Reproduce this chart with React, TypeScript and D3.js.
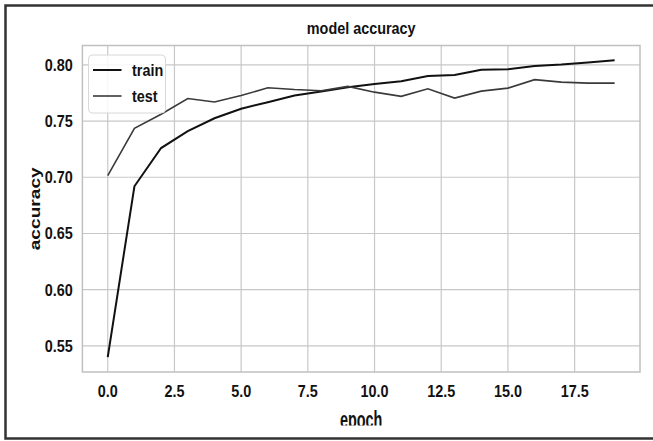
import React from "react";
import * as d3 from "d3";

const epochs = [0,1,2,3,4,5,6,7,8,9,10,11,12,13,14,15,16,17,18,19];
const trainAcc = [0.540,0.692,0.726,0.741,0.7525,0.761,0.7668,0.7727,0.7763,0.780,0.783,0.7855,0.790,0.791,0.7957,0.796,0.799,0.8002,0.802,0.804];
const testAcc = [0.7015,0.7436,0.756,0.770,0.767,0.7727,0.7796,0.778,0.777,0.7808,0.7757,0.772,0.7787,0.7704,0.7766,0.7793,0.7868,0.7846,0.7837,0.7837];
const xTicks = [0, 2.5, 5, 7.5, 10, 12.5, 15, 17.5];
const yTicks = [0.55, 0.6, 0.65, 0.7, 0.75, 0.8];
const seriesNames = ["train", "test"];
const title = "model accuracy";
const xLabel = "epoch";
const yLabel = "accuracy";

export default function App() {
  const W = 653, H = 441;
  const left = 82.4, right = 640, top = 45.5, bottom = 372;
  const x = d3.scaleLinear().domain([-0.95, 19.95]).range([left, right]);
  const y = d3.scaleLinear().domain([0.5268, 0.8172]).range([bottom, top]);
  const line = d3.line<number>().x((_, i) => x(epochs[i])).y((d) => y(d));
  const font = "'Liberation Sans', Arial, sans-serif";
  const fs = 14.4;
  const sy = 1.2;
  const txt = (s: string, tx: number, ty: number, anchor: string, key?: string, extra?: any) => (
    <text key={key} transform={`translate(${tx},${ty}) scale(1,${sy})`} textAnchor={anchor}
      fontFamily={font} fontWeight="bold" fontSize={fs} fill="#111" {...extra}>{s}</text>
  );
  return (
    <svg width={W} height={H} style={{ position: "absolute", left: 0, top: 0 }}>
      <defs>
        <clipPath id="xlclip"><rect x={0} y={0} width={W} height={425.5} /></clipPath>
      </defs>
      <rect x={0} y={0} width={W} height={H} fill="#fff" />
      {/* frame */}
      <path d={`M${W + 5},5.5 L5.5,5.5 L5.5,438.5 L${W + 5},438.5`} fill="none" stroke="#333" strokeWidth={2.5} />
      {/* grid */}
      {xTicks.map((t) => (
        <line key={"gx" + t} x1={x(t)} x2={x(t)} y1={top} y2={bottom} stroke="#c8c8c8" strokeWidth={1.2} />
      ))}
      {yTicks.map((t) => (
        <line key={"gy" + t} x1={left} x2={right} y1={y(t)} y2={y(t)} stroke="#c8c8c8" strokeWidth={1.2} />
      ))}
      <rect x={left} y={top} width={right - left} height={bottom - top} fill="none" stroke="#c0c0c0" strokeWidth={1.5} />
      {/* lines */}
      <path d={line(trainAcc) || ""} fill="none" stroke="#111" strokeWidth={2} />
      <path d={line(testAcc) || ""} fill="none" stroke="#3a3a3a" strokeWidth={1.6} />
      {/* legend */}
      <rect x={88.5} y={55} width={77} height={58} rx={4} fill="#fff" fillOpacity={0.85} stroke="#d8d8d8" strokeWidth={1} />
      <line x1={93} x2={121.5} y1={70} y2={70} stroke="#111" strokeWidth={2} />
      <line x1={93} x2={121.5} y1={96} y2={96} stroke="#3a3a3a" strokeWidth={1.6} />
      {txt(seriesNames[0], 132, 75.5, "start")}
      {txt(seriesNames[1], 132, 101.5, "start")}
      {/* ticks */}
      {xTicks.map((t) => txt(t.toFixed(1), x(t), 396.5, "middle", "xt" + t))}
      {yTicks.map((t) => txt(t.toFixed(2), 72.7, y(t) + 6, "end", "yt" + t))}
      {/* title */}
      {txt(title, (left + right) / 2, 34, "middle")}
      {/* x label */}
      <g clipPath="url(#xlclip)">
        <text transform={`translate(${(left + right) / 2},428) scale(1,1.6)`} textAnchor="middle"
          fontFamily={font} fontWeight="bold" fontSize={fs} fill="#111">{xLabel}</text>
      </g>
      {/* y label */}
      <text transform={`translate(39.5,${(top + bottom) / 2}) rotate(-90) scale(1.33,1)`} textAnchor="middle"
        fontFamily={font} fontWeight="bold" fontSize={fs} fill="#111">{yLabel}</text>
    </svg>
  );
}
